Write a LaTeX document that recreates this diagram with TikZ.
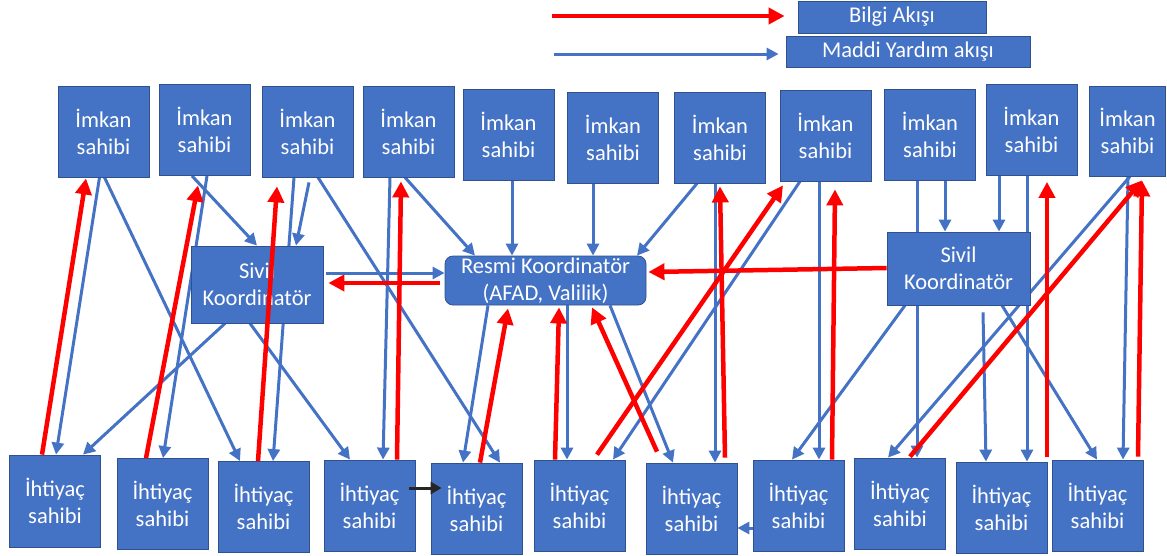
\documentclass[tikz,border=0pt]{standalone}
\usepackage{fontspec}
\setmainfont{Carlito}
\usetikzlibrary{arrows.meta, backgrounds}

\definecolor{ofismavi}{HTML}{4472C4}
\definecolor{kenar}{HTML}{2F528F}
\definecolor{kirmizi}{HTML}{FF0000}
\definecolor{koyu}{HTML}{262626}
\newcommand{\yazi}{\fontsize{22.5}{27}\selectfont}

\tikzset{
  kutu/.style={draw=kenar, line width=0.8pt, fill=ofismavi, text=white, font=\yazi,
    align=center, inner sep=0pt, minimum width=91pt, minimum height=91pt},
  madde/.style={color=ofismavi, line width=3pt, -{Triangle[length=12pt,width=12pt]}},
  bilgi/.style={color=kirmizi, line width=4.5pt, -{Triangle[length=16pt,width=16pt]}},
  siyah/.style={color=koyu, line width=3pt, -{Triangle[length=11pt,width=12pt]}}
}

\begin{document}
\begin{tikzpicture}[x=1pt,y=-1pt]
  \useasboundingbox (0,0) rectangle (1167,555);

  % legend
  \node[kutu, minimum width=188pt, minimum height=32pt] (lb) at (892,17) {Bilgi Akışı};
  \node[kutu, minimum width=244pt, minimum height=31pt] (lm) at (908,51.5) {Maddi Yardım akışı};
  \coordinate (lr) at (552,16);
  \coordinate (lv) at (554,54);

  % imkan sahipleri
  \node[kutu] (i1) at (103.5,131.5) {İmkan\\sahibi};
  \node[kutu] (i2) at (204.5,130) {İmkan\\sahibi};
  \node[kutu] (i3) at (307.5,131.5) {İmkan\\sahibi};
  \node[kutu] (i4) at (408.5,131.5) {İmkan\\sahibi};
  \node[kutu] (i5) at (508.5,134.5) {İmkan\\sahibi};
  \node[kutu] (i6) at (613,137.5) {İmkan\\sahibi};
  \node[kutu] (i7) at (720,137.5) {İmkan\\sahibi};
  \node[kutu] (i8) at (825.5,135.5) {İmkan\\sahibi};
  \node[kutu] (i9) at (930,134.5) {İmkan\\sahibi};
  \node[kutu] (i10) at (1031.5,130) {İmkan\\sahibi};
  \node[kutu, minimum width=76pt, minimum height=90pt] (i11) at (1127.5,131) {İmkan\\sahibi};

  % koordinatorler
  \node[kutu, minimum width=132pt, minimum height=77pt] (sl) at (257,284.5) {Sivil\\Koordinatör};
  \node[kutu, minimum width=201pt, minimum height=49pt, rounded corners=8pt] (rk) at (545.5,280.5) {Resmi Koordinatör\\(AFAD, Valilik)};
  \node[kutu, minimum width=143pt, minimum height=73pt] (sr) at (958.5,268.5) {Sivil\\Koordinatör};

  % ihtiyac sahipleri
  \node[kutu, minimum height=92pt] (h1) at (55,501) {İhtiyaç\\sahibi};
  \node[kutu] (h2) at (162.5,504) {İhtiyaç\\sahibi};
  \node[kutu] (h3) at (263.5,507) {İhtiyaç\\sahibi};
  \node[kutu] (h4) at (369.5,505.5) {İhtiyaç\\sahibi};
  \node[kutu] (h5) at (476.5,508.5) {İhtiyaç\\sahibi};
  \node[kutu] (h6) at (579.5,505.5) {İhtiyaç\\sahibi};
  \node[kutu] (h7) at (691.5,508.5) {İhtiyaç\\sahibi};
  \node[kutu] (h8) at (798.5,505.5) {İhtiyaç\\sahibi};
  \node[kutu] (h9) at (900,503.5) {İhtiyaç\\sahibi};
  \node[kutu] (h10) at (1001.5,507.5) {İhtiyaç\\sahibi};
  \node[kutu] (h11) at (1097.5,505.5) {İhtiyaç\\sahibi};

  % maddi yardim (behind the boxes)
  \begin{pgfonlayer}{background}
  \path[madde]
    (lv) edge ([xshift=-7pt,yshift=-2.5pt]lm.west)
    ([xshift=-4pt]i1.south) edge ([xshift=1pt]h1.north)
    ([xshift=1pt]i1.south) edge ([xshift=-23.5pt]h3.north)
    ([xshift=2.5pt]i2.south) edge ([xshift=0.5pt]h2.north)
    ([xshift=-12.5pt]i2.south) edge (sl.north)
    ([xshift=-13.5pt]i3.south) edge ([xshift=9.5pt]h3.north)
    ([xshift=1.5pt,yshift=-5pt]i3.south) edge ([xshift=39pt]sl.north)
    ([xshift=10.5pt]i3.south) edge ([xshift=23.5pt]h5.north)
    ([xshift=-18.5pt]i4.south) edge ([xshift=13.5pt]h4.north)
    ([xshift=-3.5pt]i4.south) edge ([xshift=-70.5pt]rk.north)
    ([xshift=3.5pt]i5.south) edge ([xshift=-33.5pt]rk.north)
    ([xshift=-20pt]i6.south) edge ([xshift=47.5pt]rk.north)
    ([xshift=-23pt]i7.south) edge ([xshift=91.5pt]rk.north)
    ([xshift=-5pt]i7.south) edge ([xshift=23.5pt]h7.north)
    ([xshift=-25.5pt]i8.south) edge ([xshift=33.5pt]h6.north)
    ([xshift=-6.5pt]i8.south) edge ([xshift=20.5pt]h8.north)
    ([xshift=-13pt]i9.south) edge ([xshift=17pt]h9.north)
    ([xshift=15pt]i9.south) edge ([xshift=-13.5pt]sr.north)
    ([xshift=-32.5pt]i10.south) edge ([xshift=40.5pt]sr.north)
    ([xshift=-4.5pt]i10.south) edge ([xshift=25.5pt]h10.north)
    ([xshift=2.5pt]i11.south) edge ([xshift=-12pt]h9.north)
    ([xshift=0.5pt]i11.south) edge ([xshift=25.5pt]h11.north)
    ([xshift=-32pt]sl.south) edge ([xshift=28pt]h1.north)
    ([xshift=-7pt]sl.south) edge ([xshift=-19.5pt]h4.north)
    ([xshift=3pt,yshift=11.5pt]sl.east) edge ([yshift=7.5pt]rk.west)
    ([xshift=-57.5pt]rk.south) edge ([xshift=-13.5pt]h5.north)
    ([xshift=21.5pt]rk.south) edge ([xshift=-12.5pt]h6.north)
    ([xshift=64.5pt]rk.south) edge ([xshift=-18.5pt]h7.north)
    ([xshift=-53.5pt]sr.south) edge ([xshift=-6.5pt]h8.north)
    ([xshift=24.5pt,yshift=-7pt]sr.south) edge ([xshift=-15.5pt]h10.north)
    ([xshift=43.5pt]sr.south) edge ([xshift=-0.5pt]h11.north)
    ([yshift=-22.5pt]h8.west) edge ([yshift=-19.5pt]h7.east);
  \end{pgfonlayer}

  % bilgi akisi
  \path[bilgi]
    (lr) edge ([xshift=-13pt,yshift=1pt]lb.west)
    ([xshift=-13pt]h1.north) edge ([xshift=-17.5pt,yshift=-1pt]i1.south)
    ([xshift=-16.5pt]h2.north) edge ([xshift=-6.5pt,yshift=-9.5pt]i2.south)
    ([xshift=-5.5pt]h3.north) edge ([xshift=-30.5pt,yshift=-9pt]i3.south)
    ([xshift=27.5pt]h4.north) edge ([xshift=-7.5pt,yshift=-4pt]i4.south)
    ([xshift=3.5pt]h5.north) edge ([xshift=-37.5pt,yshift=-3pt]rk.south)
    ([xshift=-24.5pt]h6.north) edge ([xshift=13.5pt,yshift=-2pt]rk.south)
    ([xshift=-34.5pt,yshift=11pt]h7.north) edge ([xshift=46.5pt,yshift=-2pt]rk.south)
    ([xshift=17.5pt,yshift=5pt]h6.north) edge ([xshift=-42.5pt,yshift=-4pt]i8.south)
    ([xshift=33.5pt,yshift=5pt]h7.north) edge ([yshift=-3pt]i7.south)
    ([xshift=33.5pt]h8.north) edge ([xshift=9.5pt,yshift=-8pt]i8.south)
    ([xshift=10pt,yshift=1pt]h9.north) edge ([xshift=14.5pt,yshift=-4pt]i11.south)
    ([xshift=45.5pt,yshift=5pt]h10.north) edge ([xshift=15.5pt,yshift=-6pt]i10.south)
    ([xshift=40.5pt,yshift=3pt]h11.north) edge ([xshift=14.5pt,yshift=-4pt]i11.south)
    ([xshift=-5pt,yshift=-2.5pt]rk.west) edge ([xshift=5pt,yshift=1.5pt]sl.east)
    ([yshift=0.5pt]sr.west) edge ([xshift=2pt,yshift=8.5pt]rk.east);

  \path[siyah]
    ([xshift=-6pt,yshift=17.5pt]h4.east) edge ([xshift=11pt,yshift=20.5pt]h5.west);
\end{tikzpicture}
\end{document}
